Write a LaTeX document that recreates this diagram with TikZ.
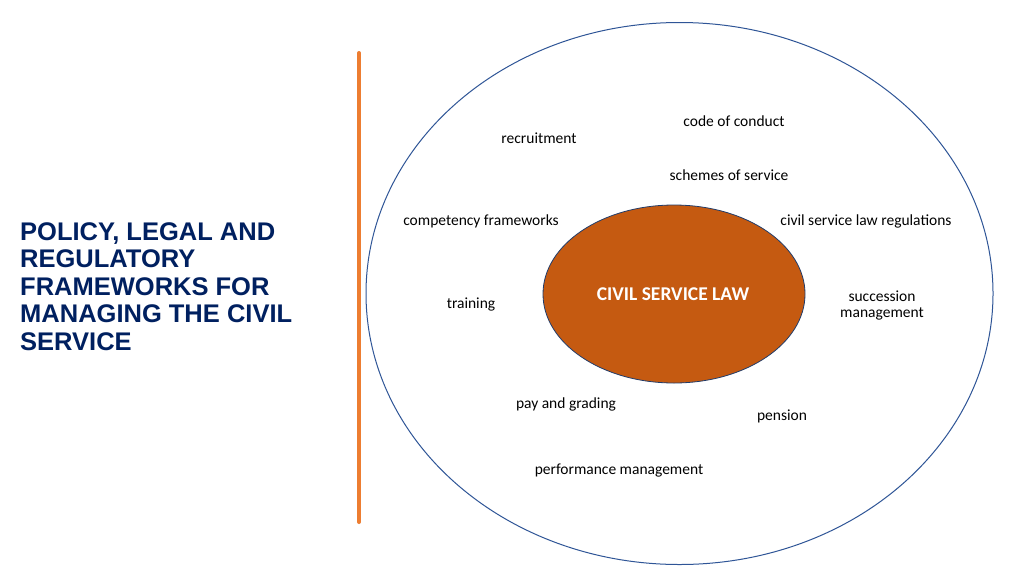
\documentclass[tikz,border=0pt]{standalone}
\usepackage{fontspec}
\setmainfont{Carlito}
\newfontfamily\titlefont{Liberation Sans}
\definecolor{navy}{RGB}{0,32,96}
\definecolor{lawfill}{RGB}{197,90,17}
\definecolor{ringblue}{RGB}{47,85,151}
\definecolor{barorange}{RGB}{237,125,49}
\begin{document}
\begin{tikzpicture}[x=1pt,y=-1pt,
  titleline/.style={anchor=base west,inner sep=0pt,text=navy,font=\titlefont\bfseries\fontsize{25.5}{27.5}\selectfont},
  item/.style={anchor=base,inner sep=0pt,font=\fontsize{15.5}{17}\selectfont,text=black},
  outerring/.style={draw=ringblue,line width=1pt},
  core/.style={draw=ringblue!70!black,line width=0.8pt,fill=lawfill}]
\useasboundingbox (0,0) rectangle (1024,576);
\fill[white] (0,0) rectangle (1024,576);
% title
\node[titleline] (t1) at (20,240) {POLICY, LEGAL AND};
\node[titleline] (t2) at (20,267.5) {REGULATORY};
\node[titleline] (t3) at (20,295) {FRAMEWORKS FOR};
\node[titleline] (t4) at (20,322.5) {MANAGING THE CIVIL};
\node[titleline] (t5) at (20,350) {SERVICE};
% orange bar
\coordinate (bartop) at (359,53);
\coordinate (barbot) at (359,522);
\draw[barorange,line width=4pt,line cap=round] (bartop) -- (barbot);
% ellipses
\draw[outerring] (679.5,293.5) ellipse [x radius=313.5, y radius=271];
\draw[core] (674,294) ellipse [x radius=131, y radius=89];
\node[anchor=base,inner sep=0pt,text=white,font=\bfseries\fontsize{19.5}{21}\selectfont] (law) at (673,300.5) {CIVIL SERVICE LAW};
% items
\node[item] (coc) at (734,126) {code of conduct};
\node[item] (rec) at (539,143) {recruitment};
\node[item] (sos) at (729,180) {schemes of service};
\node[item] (cf) at (481,225) {competency frameworks};
\node[item] (cslr) at (866,225) {civil service law regulations};
\node[item] (tr) at (471,308) {training};
\node[item] (suc1) at (882,301) {succession};
\node[item] (suc2) at (882,317) {management};
\node[item] (pg) at (566,408) {pay and grading};
\node[item] (pen) at (782,420) {pension};
\node[item] (pm) at (619,474) {performance management};
\end{tikzpicture}
\end{document}
